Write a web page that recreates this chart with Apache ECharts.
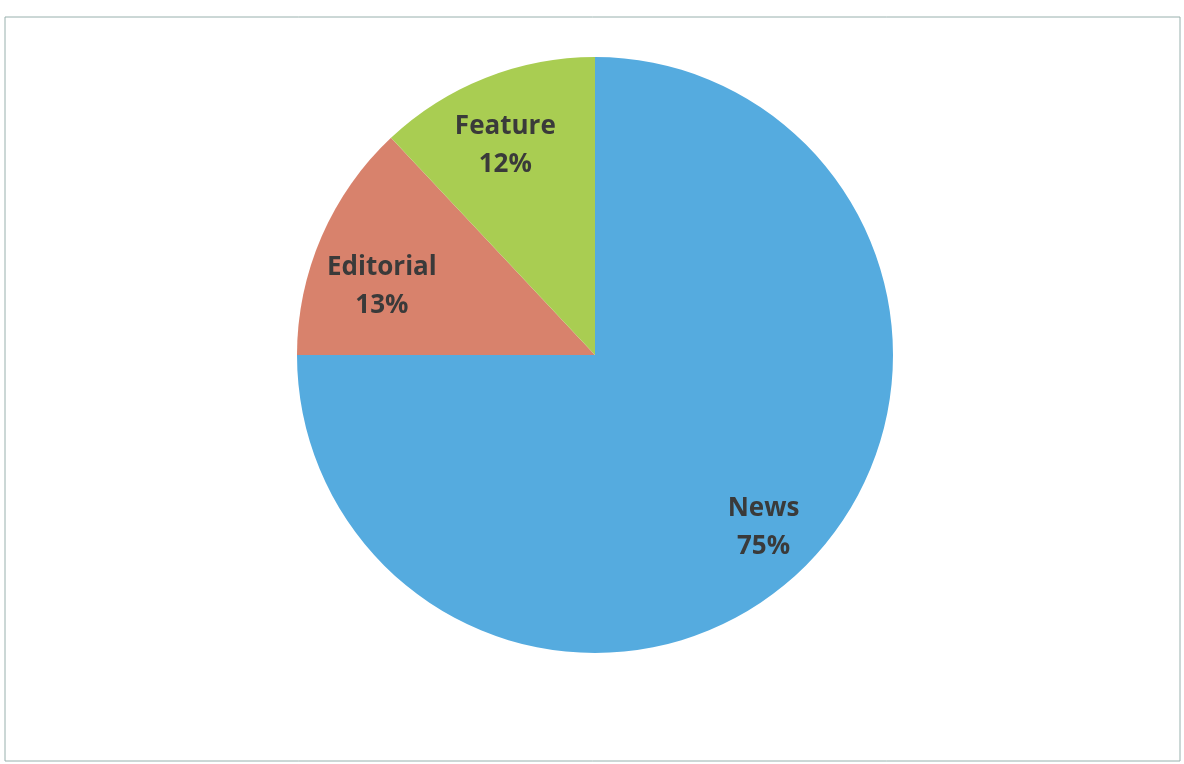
<!DOCTYPE html>
<html><head><meta charset="utf-8">
<script src="https://cdn.jsdelivr.net/npm/echarts@6/dist/echarts.min.js"></script>
<style>html,body{margin:0;padding:0;background:#fff}#c{width:1184px;height:764px}</style>
</head><body><div id="c"></div>
<script>
var categories = ['News', 'Editorial', 'Feature'];
var values = [75, 13, 12];
var colors = ['#55ABDF', '#D8826C', '#A9CD52'];
var labelOffsets = [[2, 6], [3, 25], [-3, 10]];

var data = categories.map(function (n, i) {
  return { name: n, value: values[i], itemStyle: { color: colors[i] } };
});
var chart = echarts.init(document.getElementById('c'));
chart.setOption({
  animation: false,
  graphic: [{
    type: 'rect', shape: { x: 5, y: 17, width: 1175, height: 744 },
    style: { fill: 'none', stroke: '#98B0AD', lineWidth: 1 }, silent: true
  }],
  series: [{
    type: 'pie', center: [595, 355], radius: [0, 298], startAngle: 90, clockwise: true,
    label: { show: false }, labelLine: { show: false }, silent: true,
    data: data
  }, {
    type: 'pie', center: [595, 355], radius: [167, 298], startAngle: 90, clockwise: true,
    silent: true,
    itemStyle: { color: 'rgba(0,0,0,0)' },
    label: {
      show: true, position: 'inside', formatter: '{b}\n{d}%',
      fontFamily: 'Open Sans', fontWeight: 'bold', fontSize: 26, lineHeight: 38, color: '#3A3A3A'
    },
    labelLine: { show: false },
    data: categories.map(function (n, i) {
      return { name: n, value: values[i], itemStyle: { color: 'rgba(0,0,0,0)' }, label: { offset: labelOffsets[i] } };
    })
  }]
});
</script></body></html>
